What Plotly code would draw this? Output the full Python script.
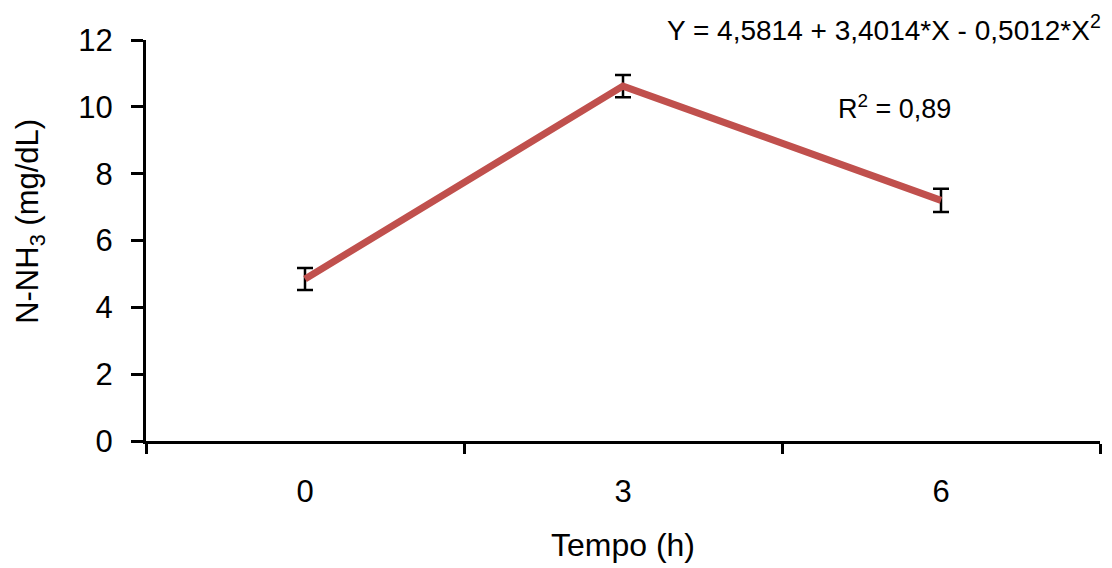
import plotly.graph_objects as go

tempo = ["0", "3", "6"]
nnh3 = [4.85, 10.62, 7.2]
erro = [0.33, 0.33, 0.35]
tick_vals_y = [0, 2, 4, 6, 8, 10, 12]

fig = go.Figure()
fig.add_trace(go.Scatter(
    x=tempo, y=nnh3, mode="lines",
    line=dict(color="#C0504D", width=7),
    error_y=dict(type="data", array=erro, visible=True, color="black", thickness=2.5, width=8),
    showlegend=False,
))

fig.update_layout(
    width=1112, height=568,
    margin=dict(l=138, r=20, t=32, b=135),
    paper_bgcolor="white", plot_bgcolor="white",
    font=dict(family="Liberation Sans, Arial, sans-serif", color="black", size=30),
    xaxis=dict(
        type="category", range=[-0.5, 2.5], tickson="boundaries",
        showline=True, linecolor="black", linewidth=3,
        ticks="outside", ticklen=10, tickwidth=2.5, tickcolor="black",
        showgrid=False, zeroline=False, automargin=False,
        tickfont=dict(size=31), ticklabelstandoff=21,
        title=dict(text="Tempo (h)", font=dict(size=32), standoff=26),
    ),
    yaxis=dict(
        range=[0, 12], tickvals=tick_vals_y,
        showline=True, linecolor="black", linewidth=3,
        ticks="outside", ticklen=12, tickwidth=2.5, tickcolor="black",
        showgrid=False, zeroline=False, automargin=False,
        tickfont=dict(size=31), ticklabelstandoff=12,
    ),
    annotations=[
        dict(text="N-NH<sub>3</sub> (mg/dL)", xref="paper", yref="paper",
             x=-0.1216, y=0.549, xanchor="center", yanchor="middle", textangle=-90,
             showarrow=False, font=dict(size=31)),
        dict(text="Y = 4,5814 + 3,4014*X - 0,5012*X<sup>2</sup>", xref="paper", yref="paper",
             x=0.774, y=1.03, xanchor="center", yanchor="middle", showarrow=False,
             font=dict(size=28)),
        dict(text="R<sup>2</sup> = 0,89", xref="paper", yref="paper",
             x=0.785, y=0.833, xanchor="center", yanchor="middle", showarrow=False,
             font=dict(size=27)),
    ],
)

fig.write_html("out.html")
